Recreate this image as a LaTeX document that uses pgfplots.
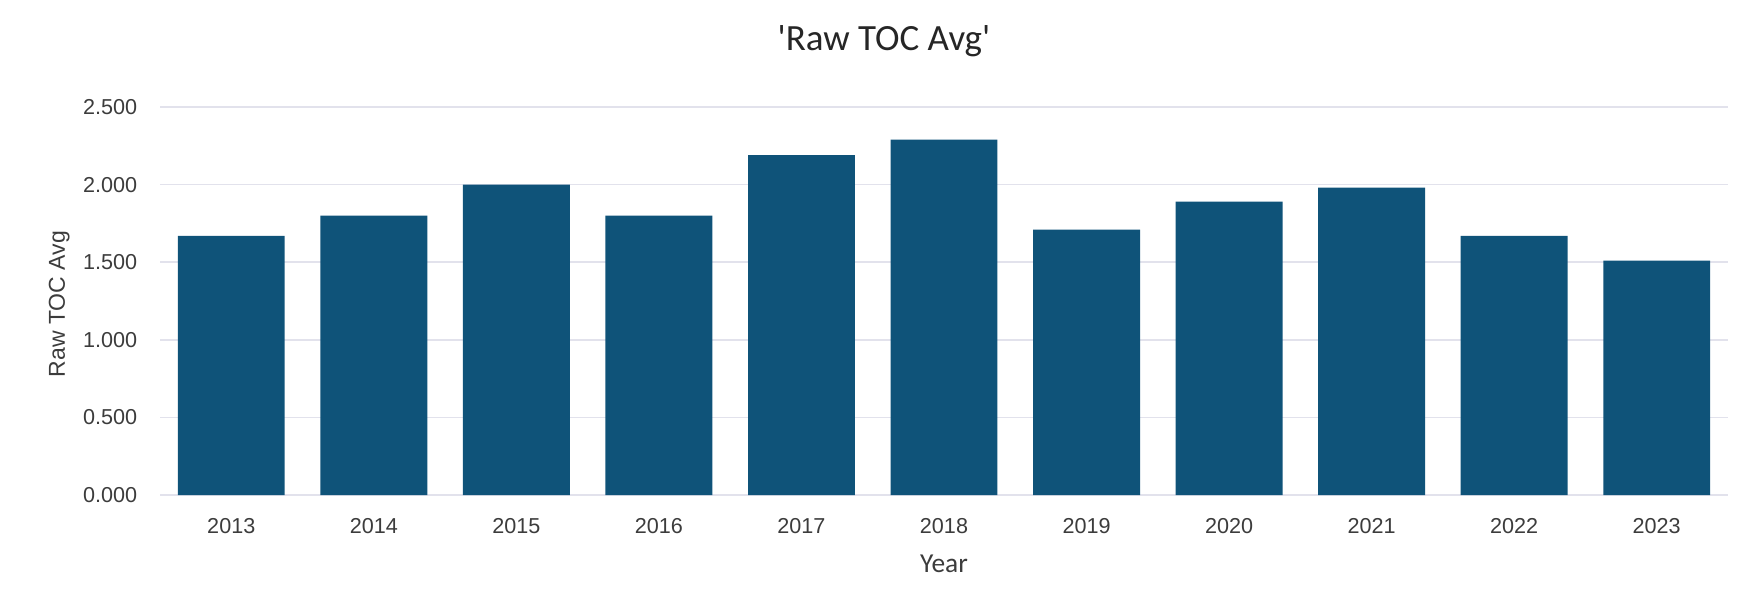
\documentclass[border=0pt]{standalone}
\usepackage{pgfplots}
\pgfplotsset{compat=1.18}
\usepackage{fontspec}
\setmainfont{Liberation Sans}
\newfontfamily\titlefont{Carlito}
\definecolor{barcol}{RGB}{15,83,121}
\definecolor{gridcol}{RGB}{226,226,236}
\definecolor{txt}{RGB}{60,60,60}
\begin{document}
\begin{tikzpicture}
\path[use as bounding box] (-80pt,-58pt) rectangle (796.5pt,247.5pt);
\begin{axis}[
  at={(0,0)}, anchor=south west,
  scale only axis, width=784pt, height=194pt,
  xmin=-0.5, xmax=10.5, ymin=0, ymax=2.5,
  axis line style={draw=none},
  ybar, bar width=0.75,
  xtick={0,1,2,3,4,5,6,7,8,9,10},
  xticklabels={2013,2014,2015,2016,2017,2018,2019,2020,2021,2022,2023},
  ytick={0,0.5,1,1.5,2,2.5},
  ymajorgrids, grid style={gridcol, line width=0.8pt},
  major tick length=0pt,
  tick style={draw=none},
  tick label style={font=\fontsize{10.8}{13}\selectfont, text=txt},
  xticklabel style={yshift=-8pt},
  yticklabel style={xshift=-7.9pt},
  /pgf/number format/assume math mode=true,
  yticklabel style={/pgf/number format/.cd, fixed, fixed zerofill, precision=3, 1000 sep={}},
  xlabel={Year},
  xlabel style={at={(axis description cs:0.5,-0.2003)}, anchor=base, font=\titlefont\fontsize{13.7}{16}\selectfont, text=txt},
  ylabel={Raw TOC Avg},
  ylabel style={at={(axis description cs:-0.0606,0.4923)}, anchor=base, font=\fontsize{11.5}{13}\selectfont, text=txt},
  title={'Raw TOC Avg'},
  title style={at={(axis description cs:0.4617,1.1142)}, anchor=base, font=\titlefont\fontsize{18.5}{22}\selectfont, text=black!85},
]
\addplot[fill=barcol, draw=none] coordinates {
 (0,1.67) (1,1.80) (2,2.00) (3,1.80) (4,2.19) (5,2.29) (6,1.71) (7,1.89) (8,1.98) (9,1.67) (10,1.51)
};
\end{axis}
\end{tikzpicture}
\end{document}
